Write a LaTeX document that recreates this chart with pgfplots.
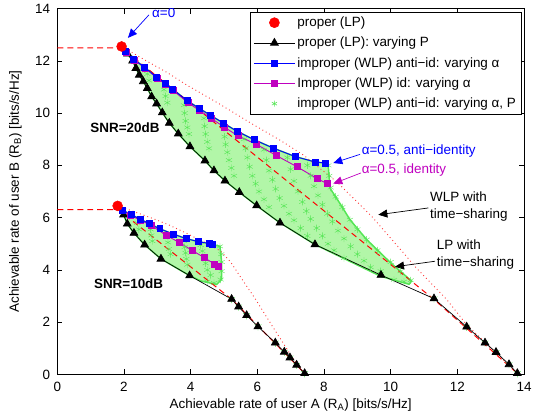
\documentclass[border=0pt]{standalone}
\usepackage{fontspec}
\setmainfont{Liberation Sans}
\usepackage{pgfplots}
\pgfplotsset{compat=1.18}
\usetikzlibrary{arrows.meta}
\definecolor{mgn}{RGB}{191,0,191}
\definecolor{grn}{RGB}{85,230,85}
\definecolor{grnfill}{RGB}{178,246,168}
\newcommand{\fs}{\fontsize{13.5}{16}\selectfont}
\begin{document}
\fs
\begin{tikzpicture}
\begin{axis}[
  scale only axis, width=467bp, height=366bp,
  xmin=0, xmax=14, ymin=0, ymax=14,
  xtick={0,2,...,14}, ytick={0,2,...,14},
  tick align=inside, tick pos=both,
  major tick length=5bp,
  axis line style={line width=0.6bp},
  every tick/.style={line width=0.6bp, black},
  /pgf/number format/assume math mode=true,
  ticklabel style={font=\fs},
  label style={font=\fs},
  xticklabel style={anchor=base, yshift=-16.7bp},
  yticklabel style={anchor=east, xshift=-2.5bp},
  xlabel={Achievable rate of user A (R\textsubscript{A}) [bits/s/Hz]},
  ylabel={Achievable rate of user B (R\textsubscript{B}) [bits/s/Hz]},
  xlabel style={at={(axis description cs:0.5,-0.0929)}, anchor=base},
  ylabel style={at={(axis description cs:-0.0899,0.5)}, anchor=center},
  legend style={at={(0.994,0.992)}, anchor=north east, draw=black, line width=0.6bp,
    font=\fs, cells={anchor=west}, inner sep=3bp, row sep=4.5bp},
  legend image code/.code={\draw[mark repeat=2,mark phase=2,#1] plot coordinates {(0bp,0bp)(20.5bp,0bp)(41bp,0bp)};},
]
% legend
\addlegendimage{only marks, mark=*, red, mark size=5bp}
\addlegendentry{proper (LP)}
\addlegendimage{black, line width=0.7bp, mark=triangle*, mark size=4.5bp}
\addlegendentry{proper (LP): varying P}
\addlegendimage{blue, line width=0.9bp, mark=square*, mark size=3bp}
\addlegendentry{improper (WLP) anti−id: varying α}
\addlegendimage{mgn, line width=0.9bp, mark=square*, mark size=3bp}
\addlegendentry{Improper (WLP) id: varying α}
\addlegendimage{only marks, grn, mark=asterisk, mark size=3bp}
\addlegendentry{improper (WLP) anti−id: varying α, P}

% green regions
\addplot[forget plot, draw=grn, line width=1.5bp, fill=grnfill] coordinates {
(1.93,12.55)(2.06,12.35)(2.3,12.06)(2.61,11.76)(2.98,11.38)(3.23,11.15)(3.46,10.92)(3.9,10.47)(4.25,10.19)(4.6,9.91)(4.98,9.62)(5.4,9.3)(5.91,8.98)(6.48,8.66)(7.13,8.34)(7.73,8.13)(8.03,8.09)
(8.13,7.96)(8.18,7.13)(8.5,6.5)(8.78,5.92)(9.28,5.16)(10.0,4.27)(10.63,3.57)(10.55,3.45)(9.71,3.75)
(7.73,4.97)(6.68,5.8)(5.98,6.46)(5.46,6.97)(5.03,7.41)(4.7,7.8)(4.43,8.18)(3.98,8.72)(3.63,9.21)(3.36,9.62)(3.15,10.02)(2.98,10.36)(2.83,10.63)(2.7,10.95)(2.58,11.21)(2.46,11.46)(2.36,11.72)(2.26,12.0)(2.11,12.27)(1.93,12.55)
} -- cycle;
\addplot[forget plot, draw=grn, line width=1.5bp, fill=grnfill] coordinates {
(1.82,6.42)(1.96,6.28)(2.23,6.11)(2.5,5.93)(2.76,5.77)(3.08,5.57)(3.48,5.37)(3.88,5.19)(4.24,5.08)(4.55,5.01)(4.66,4.97)
(4.88,4.9)(4.93,4.3)(4.93,3.63)(4.78,3.44)(4.3,3.58)
(3.97,3.78)(3.11,4.42)(2.62,4.96)(2.3,5.41)(2.1,5.76)(1.99,6.11)(1.82,6.42)
} -- cycle;
% green asterisks: outer edges and arcs
\addplot[forget plot, only marks, grn, mark=asterisk, mark size=3.5bp] coordinates {
(8.13,8.0)(8.16,7.6)(8.2,7.15)(8.35,6.8)(8.55,6.4)(8.78,5.92)(9.0,5.55)(9.28,5.16)(9.6,4.75)(10.0,4.3)(10.3,3.95)(10.6,3.6)(10.4,3.55)(10.1,3.62)
(7.5,8.0)(7.6,7.6)(7.7,7.2)(7.82,6.85)(7.95,6.5)(8.1,6.15)(8.25,5.85)(8.42,5.5)(8.6,5.2)(8.8,4.9)(9.0,4.6)(9.2,4.35)(9.4,4.1)(9.7,3.95)
(6.9,8.3)(7.0,7.85)(7.1,7.4)(7.22,7.0)(7.35,6.6)(7.47,6.25)(7.6,5.95)(7.78,5.6)(7.95,5.3)(8.12,5.0)(8.3,4.75)(8.6,4.45)
(6.2,8.6)(6.27,8.2)(6.35,7.8)(6.45,7.45)(6.55,7.1)(6.67,6.75)(6.8,6.45)(6.95,6.15)(7.1,5.9)(7.3,5.6)(7.5,5.3)
(5.6,9.0)(5.65,8.65)(5.7,8.3)(5.77,7.95)(5.85,7.6)(5.95,7.3)(6.05,7.0)(6.2,6.7)(6.35,6.4)
(5.0,9.4)(5.02,9.1)(5.05,8.8)(5.1,8.5)(5.15,8.2)(5.22,7.9)(5.3,7.6)
(4.4,9.8)(4.42,9.5)(4.45,9.2)(4.5,8.9)(4.55,8.65)
(3.8,10.3)(3.82,10.0)(3.85,9.7)(3.9,9.45)(3.95,9.2)
(3.2,10.9)(3.25,10.65)(3.3,10.4)
(2.7,11.5)(2.75,11.25)
(4.88,4.9)(4.92,4.6)(4.93,4.3)(4.93,3.95)(4.9,3.63)(4.7,3.5)(4.5,3.55)
(4.3,4.95)(4.35,4.72)(4.4,4.5)(4.45,4.25)(4.5,4.0)(4.6,3.8)
(3.8,5.1)(3.82,4.87)(3.85,4.65)(3.87,4.42)(3.9,4.2)
(3.3,5.3)(3.32,5.05)(3.35,4.8)(3.4,4.6)
(2.8,5.55)(2.82,5.32)(2.85,5.1)
(2.4,5.8)(2.45,5.55)
};
% green asterisks under lower triangles
\addplot[forget plot, only marks, grn, mark=asterisk, mark size=4bp] coordinates {
(5.23,2.88)(5.44,2.59)(5.68,2.26)(6.02,1.83)(6.54,1.21)(6.81,0.86)(6.98,0.64)(7.18,0.36)(7.42,0.04)
(11.3,2.9)(12.28,1.82)(12.83,1.21)(13.16,0.85)(13.55,0.38)(13.8,0.04)
};

% red dashed (LP time-sharing)
\addplot[forget plot, red, line width=1bp, dash pattern=on 6bp off 4bp] coordinates {
(0,12.5)(1.93,12.5)(11.3,2.87)(13.8,0.04)};
\addplot[forget plot, red, line width=1bp, dash pattern=on 6bp off 4bp] coordinates {
(0,6.31)(1.82,6.31)(5.23,2.88)(7.42,0.04)};
% red dotted (WLP time-sharing)
\addplot[forget plot, red!80, line width=0.9bp, dash pattern=on 0.9bp off 3bp] coordinates {
(1.93,12.55)(2.7,11.98)(3.3,11.55)(3.85,11.1)(4.8,10.4)(5.8,9.62)(6.7,8.95)(7.4,8.38)(8.4,7.35)(9.43,6.05)(10.35,4.7)(10.75,4.1)(11.68,2.87)(12.28,1.9)(13.8,0.04)};
\addplot[forget plot, red!80, line width=0.9bp, dash pattern=on 0.9bp off 3bp] coordinates {
(1.82,6.45)(2.28,6.24)(2.9,5.95)(3.33,5.73)(3.88,5.4)(4.5,5.0)(4.9,4.72)(5.2,4.3)(5.5,3.72)(5.95,2.87)(6.4,1.95)(6.75,1.25)(7.1,0.55)(7.42,0.04)};

% black LP varying P
\addplot[forget plot, black, line width=0.7bp, mark=triangle*, mark size=4.5bp] coordinates {
(1.93,12.55)(2.11,12.27)(2.26,12.0)(2.36,11.72)(2.46,11.46)(2.58,11.21)(2.7,10.95)(2.83,10.63)(2.98,10.36)(3.15,10.02)(3.36,9.62)(3.63,9.21)(3.98,8.72)(4.43,8.18)(4.7,7.8)(5.03,7.41)(5.46,6.97)(5.98,6.46)(6.68,5.8)(7.73,4.97)(9.71,3.8)(11.3,2.9)(12.28,1.82)(12.83,1.21)(13.16,0.85)(13.55,0.38)(13.8,0.04)};
\addplot[forget plot, black, line width=0.7bp, mark=triangle*, mark size=4.5bp] coordinates {
(1.82,6.42)(1.99,6.11)(2.1,5.76)(2.3,5.41)(2.62,4.96)(3.11,4.42)(3.97,3.78)(5.23,2.88)(5.44,2.59)(5.68,2.26)(6.02,1.83)(6.54,1.21)(6.81,0.86)(6.98,0.64)(7.18,0.36)(7.42,0.04)};

% magenta id
\addplot[forget plot, mgn, line width=0.9bp, mark=square*, mark size=3bp] coordinates {
(1.93,12.55)(2.08,12.32)(2.32,12.03)(2.63,11.72)(3.0,11.33)(3.25,11.1)(3.48,10.86)(3.92,10.4)(4.27,10.1)(4.62,9.8)(5.0,9.47)(5.42,9.13)(5.98,8.8)(6.58,8.37)(7.2,7.94)(7.8,7.49)(8.11,7.29)};
\addplot[forget plot, mgn, line width=0.9bp, mark=square*, mark size=3bp] coordinates {
(1.82,6.42)(1.96,6.27)(2.2,6.08)(2.5,5.9)(2.83,5.69)(3.28,5.31)(3.66,5.05)(4.04,4.75)(4.42,4.46)(4.72,4.22)(4.83,4.12)};
% blue anti-id
\addplot[forget plot, blue, line width=0.9bp, mark=square*, mark size=3bp] coordinates {
(1.93,12.55)(2.06,12.35)(2.3,12.06)(2.61,11.76)(2.98,11.38)(3.23,11.15)(3.46,10.92)(3.9,10.47)(4.25,10.19)(4.6,9.91)(4.98,9.62)(5.4,9.3)(5.91,8.98)(6.48,8.66)(7.13,8.34)(7.73,8.13)(8.03,8.09)};
\addplot[forget plot, blue, line width=0.9bp, mark=square*, mark size=3bp] coordinates {
(1.82,6.42)(1.96,6.28)(2.23,6.11)(2.5,5.93)(2.76,5.77)(3.08,5.57)(3.48,5.37)(3.88,5.19)(4.24,5.08)(4.55,5.01)(4.66,4.97)};

% red dots (proper LP)
\addplot[forget plot, only marks, red, mark=*, mark size=5bp] coordinates {(1.93,12.55)(1.81,6.45)};

% annotations
\node[blue, anchor=west, inner sep=0] at (axis cs:2.84,13.85) {α=0};
\draw[blue, line width=0.7bp, -{Triangle[length=9bp,width=8bp]}] (axis cs:2.75,13.76) -- (axis cs:2.12,12.88);
\node[blue, anchor=west, inner sep=0] at (axis cs:9.13,8.53) {α=0.5, anti−identity};
\draw[blue, line width=0.7bp, -{Triangle[length=9bp,width=8bp]}] (axis cs:9.08,8.42) -- (axis cs:8.28,8.09);
\node[mgn, anchor=west, inner sep=0] at (axis cs:9.13,7.83) {α=0.5, identity};
\draw[mgn, line width=0.7bp, -{Triangle[length=9bp,width=8bp]}] (axis cs:9.11,7.71) -- (axis cs:8.28,7.3);
\node[anchor=west, inner sep=0, align=left, font=\fontsize{13.5}{17}\selectfont] at (axis cs:11.18,6.43) {WLP with\\time−sharing};
\draw[black, line width=0.7bp, -{Triangle[length=9bp,width=8bp]}] (axis cs:11.13,6.37) -- (axis cs:9.63,6.11);
\node[anchor=west, inner sep=0, align=left, font=\fontsize{13.5}{17}\selectfont] at (axis cs:11.38,4.58) {LP with\\time−sharing};
\draw[black, line width=0.7bp, -{Triangle[length=9bp,width=8bp]}] (axis cs:11.33,4.33) -- (axis cs:10.13,4.12);
\node[font=\fs\bfseries] at (axis cs:2.03,9.44) {SNR=20dB};
\node[font=\fs\bfseries] at (axis cs:2.14,3.48) {SNR=10dB};
\end{axis}
\pgfresetboundingbox
\path ([shift={(-57.3bp,-43bp)}]current axis.south west) rectangle ([shift={(9bp,8.6bp)}]current axis.north east);
\end{tikzpicture}
\end{document}
